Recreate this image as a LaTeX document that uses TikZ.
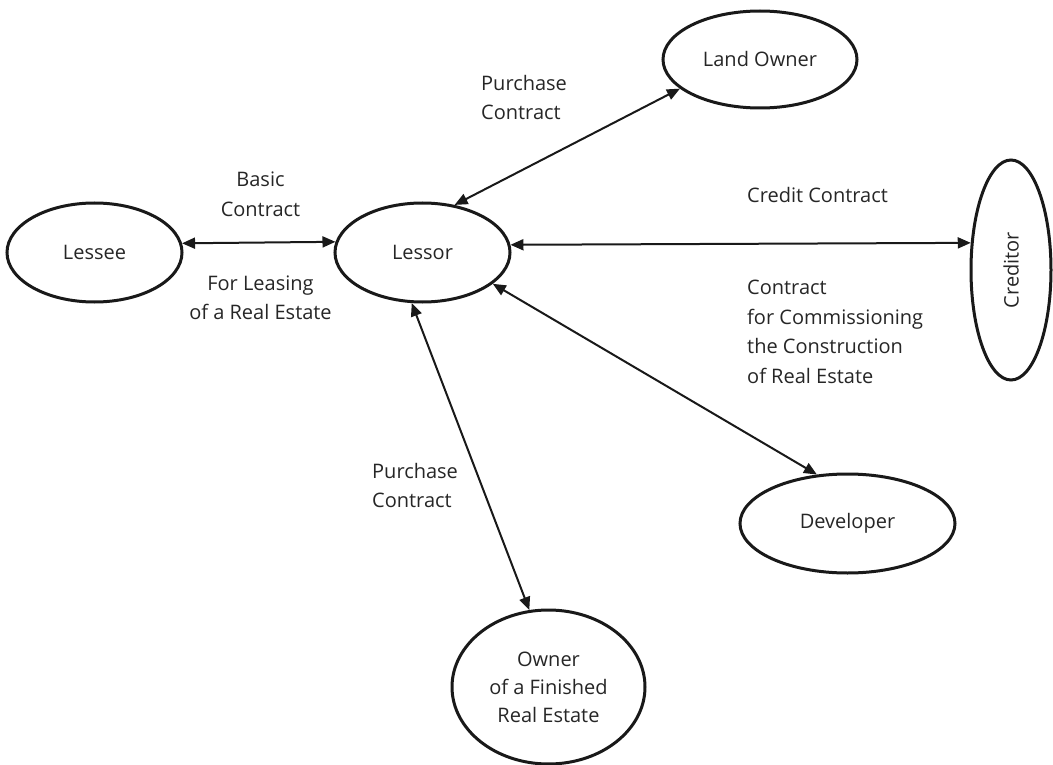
\documentclass[tikz,border=0pt]{standalone}
\usepackage{fontspec}
\setmainfont{Open Sans}
\usetikzlibrary{arrows.meta,shapes.geometric}
\begin{document}
\begin{tikzpicture}[x=1pt,y=-1pt,
  ell/.style={ellipse,draw=black!90,line width=3pt,inner sep=0pt,text=black!85,
    font=\fontsize{20}{28}\selectfont,align=center},
  lbl/.style={text=black!85,font=\fontsize{20}{29.5}\selectfont,inner sep=0pt},
  conn/.style={draw=black!90,line width=2pt,{Triangle[length=13pt,width=11pt]}-{Triangle[length=13pt,width=11pt]}}
]
\useasboundingbox (0,0) rectangle (1053,765);
\node[ell,minimum width=175pt,minimum height=99pt] (lessee) at (94.5,252.5) {Lessee};
\node[ell,minimum width=175pt,minimum height=99pt] (lessor) at (422.5,252.5) {Lessor};
\node[ell,minimum width=194pt,minimum height=97pt] (land) at (760,59.5) {Land Owner};
\node[ell,minimum width=80pt,minimum height=220pt] (creditor) at (1011,270) {\rotatebox{90}{Creditor}};
\node[ell,minimum width=215pt,minimum height=99pt] (dev) at (847.5,523.5) {Developer};
\node[ell,minimum width=193pt,minimum height=154pt] (owner) at (548.5,687) {Owner\\of a Finished\\Real Estate};

\draw[conn] (lessee.6.3) -- (lessor.173.7);
\draw[conn] (lessor.5.6) -- (creditor.146.2);
\draw[conn] (lessor.56.7) -- (land.200.3);
\draw[conn] (lessor.336.3) -- (dev.122.2);
\draw[conn] (lessor.258) -- (owner.104.7);

\node[lbl,align=center] (l1) at (260.5,194.5) {Basic\\Contract};
\node[lbl,align=center] (l2) at (260.5,298) {For Leasing\\of a Real Estate};
\node[lbl,align=left,anchor=west] (l3) at (481,97.5) {Purchase\\Contract};
\node[lbl,anchor=west] (l4) at (747,195) {Credit Contract};
\node[lbl,align=left,anchor=west] (l5) at (747,332) {Contract\\for Commissioning\\the Construction\\of Real Estate};
\node[lbl,align=left,anchor=west] (l6) at (372,485.5) {Purchase\\Contract};
\end{tikzpicture}
\end{document}
